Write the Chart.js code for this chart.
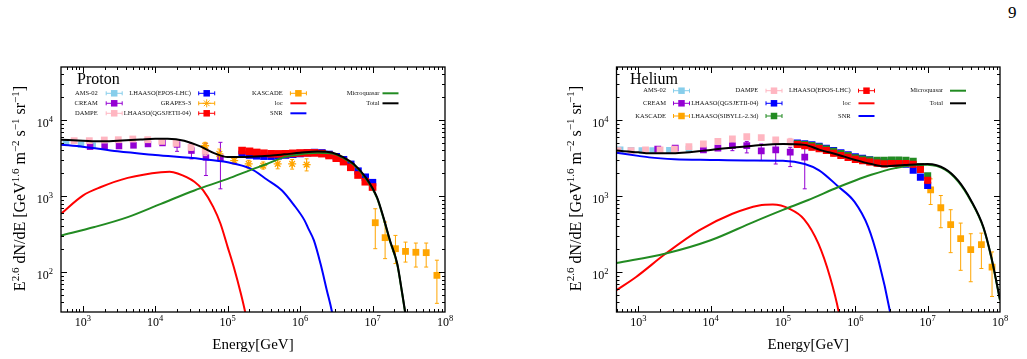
<!DOCTYPE html>
<html>
<head>
<meta charset="utf-8">
<title>Proton / Helium spectra</title>
<script src="https://cdn.jsdelivr.net/npm/chart.js@4.4.1/dist/chart.umd.min.js"></script>
<style>
  html, body { margin: 0; padding: 0; background: #fff; }
  #page { position: relative; width: 1027px; height: 359px; overflow: hidden; }
  #pageNum { position: absolute; left: 1008px; top: 3px; font: 17px 'Liberation Serif', serif; color: #000; }
  .panel { position: absolute; top: 0; }
</style>
</head>
<body>
<div id="page">
  <div id="pageNum">9</div>
  <canvas id="chartProton" class="panel" style="left:0px" width="500" height="359"></canvas>
  <canvas id="chartHelium" class="panel" style="left:500px" width="527" height="359"></canvas>
</div>
<script>
// axis ticks (decades)
var xTicks = [1e3, 1e4, 1e5, 1e6, 1e7, 1e8];
var yTicks = [1e2, 1e3, 1e4];

// ---------- Proton: measurements ----------
var pAmsE = [586, 944, 1370];
var pAmsF = [5110, 4760, 4610];

var pCreamE = [1260, 2000, 3160, 5010, 7940, 12600, 20000, 31600, 50100, 79400];
var pCreamF = [4480, 4520, 4570, 4660, 4860, 5010, 4790, 3980, 3240, 3180];
var pCreamLo = [4350, 4380, 4420, 4500, 4700, 4800, 3890, 3090, 1870, 1250];
var pCreamHi = [4620, 4660, 4720, 4820, 5030, 5200, 5500, 4900, 4960, 5110];

var pDampeE = [760, 1230, 1980, 3090, 4900, 7870, 12300, 19400, 31200, 49000];
var pDampeF = [5370, 5370, 5480, 5530, 5650, 5530, 5260, 4950, 4390, 3890];
var pDampeLo = [5210, 5210, 5320, 5360, 5480, 5360, 5050, 4650, 4000, 3420];
var pDampeHi = [5530, 5530, 5640, 5700, 5820, 5700, 5470, 5250, 4780, 4360];

var pGrapesE = [48800, 76700, 123000, 195000, 309000, 490000, 776000, 1230000];
var pGrapesF = [4610, 3600, 2940, 2660, 2520, 2660, 2660, 2600];
var pGrapesLo = [4170, 2940, 2650, 2300, 2280, 2290, 2270, 2150];
var pGrapesHi = [5100, 4170, 3100, 2960, 2820, 3010, 3040, 3100];

var pLhaasoE = [158000, 200000, 251000, 316000, 398000, 501000, 631000, 794000, 1000000, 1260000,
  1580000, 2000000, 2510000, 3160000, 3980000, 5010000, 6310000, 7940000, 10000000];
var pEposF = [3550, 3470, 3390, 3350, 3350, 3390, 3470, 3550, 3630, 3720, 3760, 3720, 3550, 3310, 3020, 2630, 2140, 1780, 1510];
var pEposLo = [3420, 3340, 3260, 3220, 3220, 3260, 3340, 3420, 3490, 3580, 3620, 3580, 3420, 3180, 2900, 2520, 2040, 1680, 1410];
var pEposHi = [3680, 3600, 3520, 3480, 3480, 3520, 3600, 3680, 3770, 3860, 3900, 3860, 3680, 3440, 3140, 2740, 2240, 1880, 1620];
var pQgsF = [3980, 3890, 3760, 3670, 3610, 3600, 3610, 3660, 3700, 3710, 3710, 3630, 3430, 3160, 2850, 2400, 1900, 1550, 1320];
var pQgsLo = [3830, 3740, 3610, 3520, 3460, 3450, 3460, 3510, 3550, 3560, 3560, 3480, 3290, 3030, 2730, 2290, 1810, 1470, 1240];
var pQgsHi = [4130, 4040, 3910, 3820, 3760, 3750, 3760, 3810, 3850, 3860, 3860, 3780, 3570, 3290, 2970, 2510, 1990, 1630, 1400];

var pKascadeE = [10900000, 14900000, 20700000, 28500000, 39600000, 55000000, 77300000];
var pKascadeF = [448, 285, 204, 188, 183, 181, 91];
var pKascadeLo = [204, 151, 130, 136, 117, 117, 39];
var pKascadeHi = [684, 457, 305, 249, 242, 242, 144];

// ---------- Proton: model curves ----------
var pLocE = [500, 1000, 1780, 4170, 12000, 15800, 20400, 34700, 45700, 63100, 79400, 100000, 123000, 151000, 174000, 191000];
var pLocF = [587, 1020, 1320, 1740, 2070, 2090, 1990, 1550, 1200, 724, 437, 214, 112, 53.7, 30.2, 19];

var pSnrE = [500, 1000, 3020, 10000, 42700, 100000, 204000, 347000, 562000, 813000, 1150000, 1300000, 1550000, 1910000, 2340000, 2750000, 2950000];
var pSnrF = [4760, 4480, 3890, 3480, 3090, 2790, 2320, 1660, 1190, 776, 481, 374, 262, 130, 57.5, 30.2, 20];

var pMqE = [500, 1450, 4170, 12000, 34700, 100000, 209000, 347000, 589000, 1000000, 1740000, 2820000, 3980000,
  5500000, 8320000, 11500000, 14100000, 17400000, 21900000, 25700000, 28200000, 30200000];
var pMqF = [305, 393, 531, 794, 1190, 1690, 2220, 2650, 3240, 3550, 3720, 3630, 3160, 2590, 1650, 948, 519, 256, 127, 51.3, 29.2, 19.5];

var pTotE = [500, 1000, 1780, 3020, 6310, 10000, 14800, 25100, 42700, 66100, 100000, 158000, 288000, 603000, 1000000,
  1740000, 2820000, 3980000, 5500000, 8320000, 11500000, 14100000, 17400000, 21900000, 25700000, 28200000, 30200000];
var pTotF = [5530, 5370, 5260, 5370, 5580, 5700, 5700, 5370, 4480, 3660, 3270, 3270, 3350, 3550, 3720, 3870, 3720, 3240,
  2650, 1690, 970, 531, 262, 130, 52.5, 29.9, 20];

// ---------- Helium: measurements ----------
var hAmsE = [562, 794, 1120, 1580, 2690, 5010];
var hAmsF = [4070, 4030, 3980, 3980, 4030, 4170];

var hCreamE = [1860, 3240, 7940, 12600, 20000, 31600, 50100, 79400, 126000, 200000];
var hCreamF = [4170, 4300, 4060, 4300, 4610, 4610, 3940, 4060, 3800, 3270];
var hCreamLo = [4050, 4170, 3940, 4150, 3970, 3710, 2940, 2650, 2450, 1250];
var hCreamHi = [4300, 4430, 4180, 4450, 5100, 5250, 4860, 4860, 4390, 4860];

var hDampeE = [525, 794, 1260, 2000, 3160, 5010, 7940, 12600, 20000, 31600, 50100, 79400, 126000];
var hDampeF = [3980, 3980, 4060, 4060, 4170, 4480, 4860, 5260, 5650, 6050, 5890, 5480, 5190];
var hDampeLo = [3860, 3860, 3940, 3940, 4040, 4340, 4710, 5080, 5430, 5750, 5530, 5040, 4620];
var hDampeHi = [4100, 4100, 4180, 4180, 4300, 4620, 5010, 5440, 5870, 6350, 6250, 5920, 5760];

var hLhaasoE = [158000, 200000, 251000, 316000, 398000, 501000, 631000, 794000, 1000000, 1260000,
  1580000, 2000000, 2510000, 3160000, 3980000, 5010000, 6310000, 7940000, 10000000];
var hEposF = [4790, 4620, 4420, 4220, 3980, 3670, 3430, 3240, 3050, 2920, 2820, 2720, 2660, 2690, 2690, 2690, 2630, 2240, 1620];
var hEposLo = [4410, 4250, 4070, 3880, 3660, 3380, 3160, 2980, 2810, 2690, 2590, 2500, 2450, 2470, 2470, 2470, 2420, 2060, 1490];
var hEposHi = [5080, 4900, 4690, 4470, 4220, 3890, 3640, 3430, 3230, 3100, 2990, 2880, 2820, 2850, 2850, 2850, 2790, 2370, 1720];
var hQgsF = [5010, 4900, 4730, 4520, 4270, 3980, 3720, 3510, 3310, 3160, 3020, 2880, 2790, 2750, 2720, 2630, 2190, 1780, 1380];
var hQgsLo = [4760, 4660, 4490, 4290, 4060, 3780, 3530, 3330, 3140, 3000, 2870, 2740, 2650, 2610, 2580, 2500, 2080, 1690, 1310];
var hQgsHi = [5260, 5150, 4970, 4750, 4480, 4180, 3910, 3690, 3480, 3320, 3170, 3020, 2930, 2890, 2860, 2760, 2300, 1870, 1450];
var hSibF = [4900, 4790, 4620, 4420, 4170, 3890, 3630, 3430, 3200, 3080, 2990, 2960, 2960, 2990, 2990, 2960, 2880, 2450, 1860];
var hSibLo = [4660, 4550, 4390, 4200, 3960, 3700, 3450, 3260, 3040, 2930, 2840, 2810, 2810, 2840, 2840, 2810, 2740, 2330, 1770];
var hSibHi = [5150, 5030, 4850, 4640, 4380, 4080, 3810, 3600, 3360, 3230, 3140, 3110, 3110, 3140, 3140, 3110, 3020, 2570, 1950];

var hKascadeE = [11000000, 15200000, 20800000, 28600000, 39400000, 55300000, 77600000];
var hKascadeF = [1213, 705, 422, 277, 198, 231, 117];
var hKascadeLo = [778, 385, 181, 106, 75, 112, 48];
var hKascadeHi = [1690, 1021, 664, 443, 321, 327, 185];

// ---------- Helium: model curves ----------
var hLocE = [500, 933, 2400, 6920, 20000, 46800, 72400, 123000, 195000, 309000, 447000, 589000, 631000];
var hLocF = [58.1, 86.7, 176, 355, 587, 755, 776, 684, 501, 238, 86.7, 30.2, 20];

var hSnrE = [500, 1000, 1410, 3160, 10000, 31600, 100000, 200000, 316000, 575000, 977000, 1510000, 2090000, 3020000, 3240000];
var hSnrF = [3720, 3390, 3240, 3070, 3000, 2950, 2920, 2650, 2190, 1350, 841, 393, 144, 30.2, 20];

var hMqE = [500, 2400, 10000, 38900, 100000, 224000, 575000, 1000000, 1660000, 3550000, 7410000, 10000000,
  17400000, 26300000, 39800000, 58900000, 75900000, 100000000];
var hMqF = [132, 176, 263, 457, 661, 891, 1310, 1610, 1910, 2340, 2600, 2590, 2240, 1570, 859, 384, 155, 42.7];

var hTotE = [500, 1000, 1410, 2750, 10000, 38900, 100000, 200000, 324000, 575000, 1000000, 1660000, 2570000, 4790000,
  10000000, 17400000, 26300000, 39800000, 58900000, 75900000, 100000000];
var hTotF = [3980, 3780, 3660, 3660, 4060, 4610, 4860, 4730, 4070, 3510, 3000, 2650, 2470, 2570, 2650, 2290, 1610, 879, 393, 158, 43.7];

// ---------- colours ----------
var cSky = '#87ceeb';
var cViolet = '#9400d3';
var cPink = '#ffb6c1';
var cBlue = '#0000ff';
var cOrange = '#ffa500';
var cRed = '#ff0000';
var cGreen = '#228b22';
var cBlack = '#000000';

var serif = "'Liberation Serif', 'Times New Roman', serif";

function toPoints(xs, ys) {
  var out = [];
  for (var i = 0; i < xs.length; i++) {
    out.push({ x: xs[i], y: ys[i] });
  }
  return out;
}

// measured points (square or star marker, with vertical error bars)
function dataSet(label, xs, ys, lo, hi, color, style, radius, order, slot) {
  return {
    label: label,
    data: toPoints(xs, ys),
    errLo: lo,
    errHi: hi,
    pointStyle: style,
    pointRadius: radius,
    pointHoverRadius: radius,
    backgroundColor: color,
    borderColor: color,
    pointBorderWidth: style === 'star' ? 1.3 : 0,
    showLine: false,
    order: order,
    slot: slot,
    kind: style === 'star' ? 'star' : 'data',
  };
}

// model curves
function curveSet(label, xs, ys, color, order, slot) {
  return {
    label: label,
    data: toPoints(xs, ys),
    showLine: true,
    borderColor: color,
    backgroundColor: color,
    borderWidth: 2,
    pointRadius: 0,
    pointHoverRadius: 0,
    fill: false,
    cubicInterpolationMode: 'monotone',
    clip: 0,
    order: order,
    slot: slot,
    kind: 'line',
  };
}

// error bars, drawn just before each dataset's markers
var errorBarPlugin = {
  id: 'errorBars',
  beforeDatasetDraw: function (chart, args) {
    var ds = chart.data.datasets[args.index];
    if (!ds.errLo) return;
    var ctx = chart.ctx;
    var a = chart.chartArea;
    var xs = chart.scales.x;
    var ys = chart.scales.y;
    ctx.save();
    ctx.beginPath();
    ctx.rect(a.left, a.top, a.right - a.left, a.bottom - a.top);
    ctx.clip();
    ctx.strokeStyle = ds.borderColor;
    ctx.lineWidth = 1;
    ctx.beginPath();
    for (var i = 0; i < ds.data.length; i++) {
      var px = xs.getPixelForValue(ds.data[i].x);
      var lo = ys.getPixelForValue(ds.errLo[i]);
      var hi = ys.getPixelForValue(ds.errHi[i]);
      ctx.moveTo(px, lo);
      ctx.lineTo(px, hi);
      ctx.moveTo(px - 2, lo);
      ctx.lineTo(px + 2, lo);
      ctx.moveTo(px - 2, hi);
      ctx.lineTo(px + 2, hi);
    }
    ctx.stroke();
    ctx.restore();
  },
};

function supText(ctx, parts, mainFont, supFont) {
  var w = 0;
  for (var i = 0; i < parts.length; i++) {
    ctx.font = parts[i][1] ? supFont : mainFont;
    w += ctx.measureText(parts[i][0]).width;
  }
  return w;
}

function drawSupText(ctx, parts, x, y, mainFont, supFont, rise) {
  for (var i = 0; i < parts.length; i++) {
    ctx.font = parts[i][1] ? supFont : mainFont;
    ctx.fillText(parts[i][0], x, parts[i][1] ? y - rise : y);
    x += ctx.measureText(parts[i][0]).width;
  }
}

var yTitleParts = [
  ['E', 0], ['2.6', 1], [' dN/dE [GeV', 0], ['1.6', 1], [' m', 0], ['\u22122', 1],
  [' s', 0], ['\u22121', 1], [' sr', 0], ['\u22121', 1], [']', 0],
];

// frame, inward ticks, tick labels, y title, panel name and legend
var decorPlugin = {
  id: 'decor',
  afterDraw: function (chart, args, opts) {
    var ctx = chart.ctx;
    var a = chart.chartArea;
    var xs = chart.scales.x;
    var ys = chart.scales.y;
    var d, m, v, p, len;

    ctx.save();
    ctx.strokeStyle = '#000';
    ctx.fillStyle = '#000';
    ctx.lineWidth = 1;
    ctx.beginPath();
    for (d = 2; d <= 8; d++) {
      for (m = 1; m <= 9; m++) {
        v = m * Math.pow(10, d);
        if (v > xs.max) continue;
        p = Math.round(xs.getPixelForValue(v)) + 0.5;
        if (p < a.left + 1 || p > a.right - 1) continue;
        len = m === 1 ? 6 : 3;
        ctx.moveTo(p, a.bottom);
        ctx.lineTo(p, a.bottom - len);
        ctx.moveTo(p, a.top);
        ctx.lineTo(p, a.top + len);
      }
    }
    for (d = 1; d <= 4; d++) {
      for (m = 1; m <= 9; m++) {
        v = m * Math.pow(10, d);
        if (v < ys.min || v > ys.max) continue;
        p = Math.round(ys.getPixelForValue(v)) + 0.5;
        if (p < a.top + 1 || p > a.bottom - 1) continue;
        len = m === 1 ? 6 : 3;
        ctx.moveTo(a.left, p);
        ctx.lineTo(a.left + len, p);
        ctx.moveTo(a.right, p);
        ctx.lineTo(a.right - len, p);
      }
    }
    ctx.stroke();

    ctx.lineWidth = 1.3;
    ctx.strokeRect(a.left, a.top, a.right - a.left, a.bottom - a.top);

    // tick labels 10^n
    var mainF = '12px ' + serif;
    var supF = '8.5px ' + serif;
    ctx.textBaseline = 'alphabetic';
    ctx.textAlign = 'left';
    var i, parts, w;
    for (i = 0; i < xTicks.length; i++) {
      p = xs.getPixelForValue(xTicks[i]);
      parts = [['10', 0], [String(Math.round(Math.log10(xTicks[i]))), 1]];
      w = supText(ctx, parts, mainF, supF);
      drawSupText(ctx, parts, p - w / 2, a.bottom + 14, mainF, supF, 5);
    }
    for (i = 0; i < yTicks.length; i++) {
      p = ys.getPixelForValue(yTicks[i]);
      parts = [['10', 0], [String(Math.round(Math.log10(yTicks[i]))), 1]];
      w = supText(ctx, parts, mainF, supF);
      drawSupText(ctx, parts, a.left - 8 - w, p + 7, mainF, supF, 5);
    }

    // y axis title
    var tMain = '16px ' + serif;
    var tSup = '11px ' + serif;
    w = supText(ctx, yTitleParts, tMain, tSup);
    ctx.save();
    ctx.translate(a.left - 36, (a.top + a.bottom) / 2 - 1);
    ctx.rotate(-Math.PI / 2);
    drawSupText(ctx, yTitleParts, -w / 2, 0, tMain, tSup, 6.5);
    ctx.restore();

    // panel name
    ctx.font = '16px ' + serif;
    ctx.fillText(opts.name, opts.nameX, opts.nameY);

    // legend, three rows per column
    var list = chart.data.datasets;
    ctx.font = '6.5px ' + serif;
    ctx.textBaseline = 'middle';
    for (i = 0; i < list.length; i++) {
      var ds = list[i];
      var col = Math.floor(ds.slot / 3);
      var row = ds.slot % 3;
      var ly = opts.rows[row];
      var lx = opts.symX[col];
      ctx.fillStyle = '#111';
      ctx.textAlign = 'right';
      ctx.fillText(ds.label, opts.textRight[col], ly);
      ctx.strokeStyle = ds.borderColor;
      ctx.fillStyle = ds.borderColor;
      if (ds.kind === 'line') {
        ctx.lineWidth = 2;
        ctx.beginPath();
        ctx.moveTo(lx - 8, ly);
        ctx.lineTo(lx + 8, ly);
        ctx.stroke();
      } else {
        ctx.lineWidth = 1;
        ctx.beginPath();
        ctx.moveTo(lx - 8, ly);
        ctx.lineTo(lx + 8, ly);
        ctx.moveTo(lx - 8, ly - 2);
        ctx.lineTo(lx - 8, ly + 2);
        ctx.moveTo(lx + 8, ly - 2);
        ctx.lineTo(lx + 8, ly + 2);
        ctx.stroke();
        Chart.helpers.drawPoint(ctx, {
          pointStyle: ds.kind === 'star' ? 'star' : 'rect',
          radius: ds.kind === 'star' ? 4 : 4.6,
          borderWidth: ds.kind === 'star' ? 1.3 : 0,
          rotation: 0,
        }, lx, ly);
      }
    }
    ctx.restore();
  },
};

function panelOptions(yWidth, rightPad, decor) {
  return {
    responsive: false,
    animation: false,
    devicePixelRatio: 1,
    layout: { padding: { left: 0, top: 67, right: rightPad, bottom: 0 } },
    plugins: {
      legend: { display: false },
      tooltip: { enabled: false },
      decor: decor,
    },
    scales: {
      x: {
        type: 'logarithmic',
        min: 500,
        max: 1e8,
        grid: { display: false },
        border: { display: false },
        ticks: { display: false },
        title: {
          display: true,
          text: 'Energy[GeV]',
          color: '#000',
          font: { family: serif, size: 15 },
          padding: { top: 0, bottom: 5 },
        },
        afterFit: function (scale) {
          scale.height = 47;
        },
      },
      y: {
        type: 'logarithmic',
        min: 30,
        max: 5e4,
        grid: { display: false },
        border: { display: false },
        ticks: { display: false },
        afterFit: function (scale) {
          scale.width = yWidth;
        },
      },
    },
  };
}

// 繪製 Proton
var protonChart = new Chart(document.getElementById('chartProton'), {
  type: 'scatter',
  data: {
    datasets: [
      dataSet('AMS-02', pAmsE, pAmsF, null, null, cSky, 'rect', 4.6, 10, 0),
      dataSet('CREAM', pCreamE, pCreamF, pCreamLo, pCreamHi, cViolet, 'rect', 4.6, 9, 1),
      dataSet('DAMPE', pDampeE, pDampeF, pDampeLo, pDampeHi, cPink, 'rect', 4.8, 8, 2),
      dataSet('LHAASO(EPOS-LHC)', pLhaasoE, pEposF, pEposLo, pEposHi, cBlue, 'rect', 5.2, 7, 3),
      dataSet('GRAPES-3', pGrapesE, pGrapesF, pGrapesLo, pGrapesHi, cOrange, 'star', 4, 6, 4),
      dataSet('LHAASO(QGSJETII-04)', pLhaasoE, pQgsF, pQgsLo, pQgsHi, cRed, 'rect', 5.4, 5, 5),
      dataSet('KASCADE', pKascadeE, pKascadeF, pKascadeLo, pKascadeHi, cOrange, 'rect', 4.8, 4, 6),
      curveSet('loc', pLocE, pLocF, cRed, 3, 7),
      curveSet('SNR', pSnrE, pSnrF, cBlue, 2, 8),
      curveSet('Microquasar', pMqE, pMqF, cGreen, 1, 9),
      curveSet('Total', pTotE, pTotF, cBlack, 0, 10),
    ],
  },
  options: panelOptions(61, 55, {
    name: 'Proton',
    nameX: 77,
    nameY: 84,
    rows: [93.3, 103.3, 113.3],
    textRight: [97.7, 191, 282.7, 379.5],
    symX: [114.2, 206.7, 298.4, 390.5],
  }),
  plugins: [errorBarPlugin, decorPlugin],
});

// 繪製 Helium
var heliumChart = new Chart(document.getElementById('chartHelium'), {
  type: 'scatter',
  data: {
    datasets: [
      dataSet('AMS-02', hAmsE, hAmsF, null, null, cSky, 'rect', 4.6, 10, 0),
      dataSet('CREAM', hCreamE, hCreamF, hCreamLo, hCreamHi, cViolet, 'rect', 4.8, 9, 1),
      dataSet('KASCADE', hKascadeE, hKascadeF, hKascadeLo, hKascadeHi, cOrange, 'rect', 4.8, 8, 2),
      dataSet('DAMPE', hDampeE, hDampeF, hDampeLo, hDampeHi, cPink, 'rect', 4.8, 7, 3),
      dataSet('LHAASO(QGSJETII-04)', hLhaasoE, hQgsF, hQgsLo, hQgsHi, cBlue, 'rect', 5, 6, 4),
      dataSet('LHAASO(SIBYLL-2.3d)', hLhaasoE, hSibF, hSibLo, hSibHi, cGreen, 'rect', 5, 5, 5),
      dataSet('LHAASO(EPOS-LHC)', hLhaasoE, hEposF, hEposLo, hEposHi, cRed, 'rect', 5, 4, 6),
      curveSet('loc', hLocE, hLocF, cRed, 3, 7),
      curveSet('SNR', hSnrE, hSnrF, cBlue, 2, 8),
      curveSet('Microquasar', hMqE, hMqF, cGreen, 1, 9),
      curveSet('Total', hTotE, hTotF, cBlack, 0, 10),
    ],
  },
  options: panelOptions(116.5, 27, {
    name: 'Helium',
    nameX: 130,
    nameY: 84,
    rows: [90.7, 103.3, 116],
    textRight: [166, 258.3, 350.7, 443],
    symX: [181.5, 274, 366.5, 458],
  }),
  plugins: [errorBarPlugin, decorPlugin],
});
</script>
</body>
</html>
